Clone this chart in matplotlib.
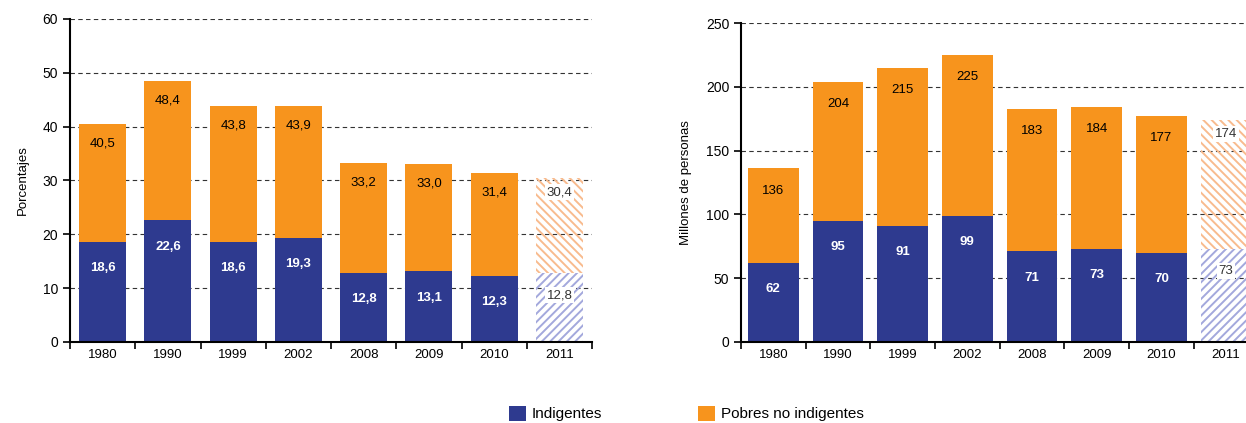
import matplotlib.pyplot as plt
import numpy as np
from matplotlib.patches import Patch

plt.rcParams['font.family'] = ['Liberation Sans', 'DejaVu Sans']
plt.rcParams['hatch.linewidth'] = 1.4

# Datos
anios = ['1980', '1990', '1999', '2002', '2008', '2009', '2010', '2011']
pct_indigentes = [18.6, 22.6, 18.6, 19.3, 12.8, 13.1, 12.3, 12.8]
pct_pobres_total = [40.5, 48.4, 43.8, 43.9, 33.2, 33.0, 31.4, 30.4]
mill_indigentes = [62, 95, 91, 99, 71, 73, 70, 73]
mill_pobres_total = [136, 204, 215, 225, 183, 184, 177, 174]

azul = '#2e3a8f'
naranja = '#f7941d'
azul_claro = '#a3a8dc'
naranja_claro = '#f8bb8e'


def fmt(v, coma):
    if coma:
        return ('%.1f' % v).replace('.', ',')
    return '%d' % v


def plot_panel(ax, indig, total, ylim, yticks, ylabel, coma, width, off_top):
    x = np.arange(len(anios))
    resto = [t - i for t, i in zip(total, indig)]
    n = len(anios) - 1  # ultimo año proyectado (rayado)
    ax.bar(x[:n], indig[:n], width=width, color=azul, zorder=2)
    ax.bar(x[:n], resto[:n], bottom=indig[:n], width=width, color=naranja, zorder=2)
    ax.bar(x[n], indig[n], width=width, facecolor='none', edgecolor=azul_claro,
           hatch='////', linewidth=0, zorder=2)
    ax.bar(x[n], resto[n], bottom=indig[n], width=width, facecolor='none',
           edgecolor=naranja_claro, hatch='\\\\\\\\', linewidth=0, zorder=2)

    for i in range(len(anios)):
        if i < n:
            ax.annotate(fmt(indig[i], coma), (x[i], indig[i]), xytext=(0, -19),
                        textcoords='offset points', ha='center', va='center',
                        color='white', fontweight='bold', fontsize=9.5, zorder=3)
            ax.annotate(fmt(total[i], coma), (x[i], total[i]), xytext=(0, -off_top),
                        textcoords='offset points', ha='center', va='center',
                        color='black', fontsize=9.5, zorder=3)
        else:
            caja = dict(boxstyle='square,pad=0.15', fc='white', ec='none')
            ax.annotate(fmt(indig[i], coma), (x[i], indig[i]), xytext=(0, -16),
                        textcoords='offset points', ha='center', va='center',
                        color='#333333', fontsize=9.5, bbox=caja, zorder=3)
            ax.annotate(fmt(total[i], coma), (x[i], total[i]), xytext=(0, -10),
                        textcoords='offset points', ha='center', va='center',
                        color='#333333', fontsize=9.5, bbox=caja, zorder=3)

    ax.set_xlim(-0.5, len(anios) - 0.5)
    ax.set_ylim(*ylim)
    ax.set_yticks(yticks)
    ax.yaxis.grid(True, linestyle=(0, (4, 3)), color='#333333', linewidth=0.8, zorder=0)
    ax.set_axisbelow(True)
    ax.set_xticks(x)
    ax.set_xticklabels(anios, fontsize=9.5)
    ax.tick_params(axis='x', length=0, pad=5)
    ax.set_xticks(np.arange(-0.5, len(anios), 1), minor=True)
    ax.tick_params(axis='x', which='minor', length=5, width=1.2, direction='out')
    ax.tick_params(axis='y', length=5, width=1.2, labelsize=10)
    for s in ['top', 'right']:
        ax.spines[s].set_visible(False)
    ax.spines['left'].set_linewidth(1.5)
    ax.spines['bottom'].set_linewidth(1.5)
    ax.set_ylabel(ylabel, fontsize=9.5, labelpad=10)


fig = plt.figure(figsize=(12.46, 4.23), dpi=100)
ax1 = fig.add_axes([0.0562, 0.1915, 0.419, 0.7636])
ax2 = fig.add_axes([0.5947, 0.1915, 0.41, 0.754])

plot_panel(ax1, pct_indigentes, pct_pobres_total, (0, 60), range(0, 61, 10),
           'Porcentajes', True, 0.72, 14)
plot_panel(ax2, mill_indigentes, mill_pobres_total, (0, 250), range(0, 251, 50),
           'Millones de personas', False, 0.78, 16)
ax2.set_xlim(-0.5, 7.4)

handles = [Patch(facecolor=azul), Patch(facecolor=naranja)]
fig.legend(handles, ['Indigentes', 'Pobres no indigentes'], loc='center',
           bbox_to_anchor=(0.551, 0.022), ncol=2, frameon=False, fontsize=11,
           handlelength=1.1, handleheight=1.1, handletextpad=0.4, columnspacing=6.3)

plt.savefig('out.png', dpi=100)
